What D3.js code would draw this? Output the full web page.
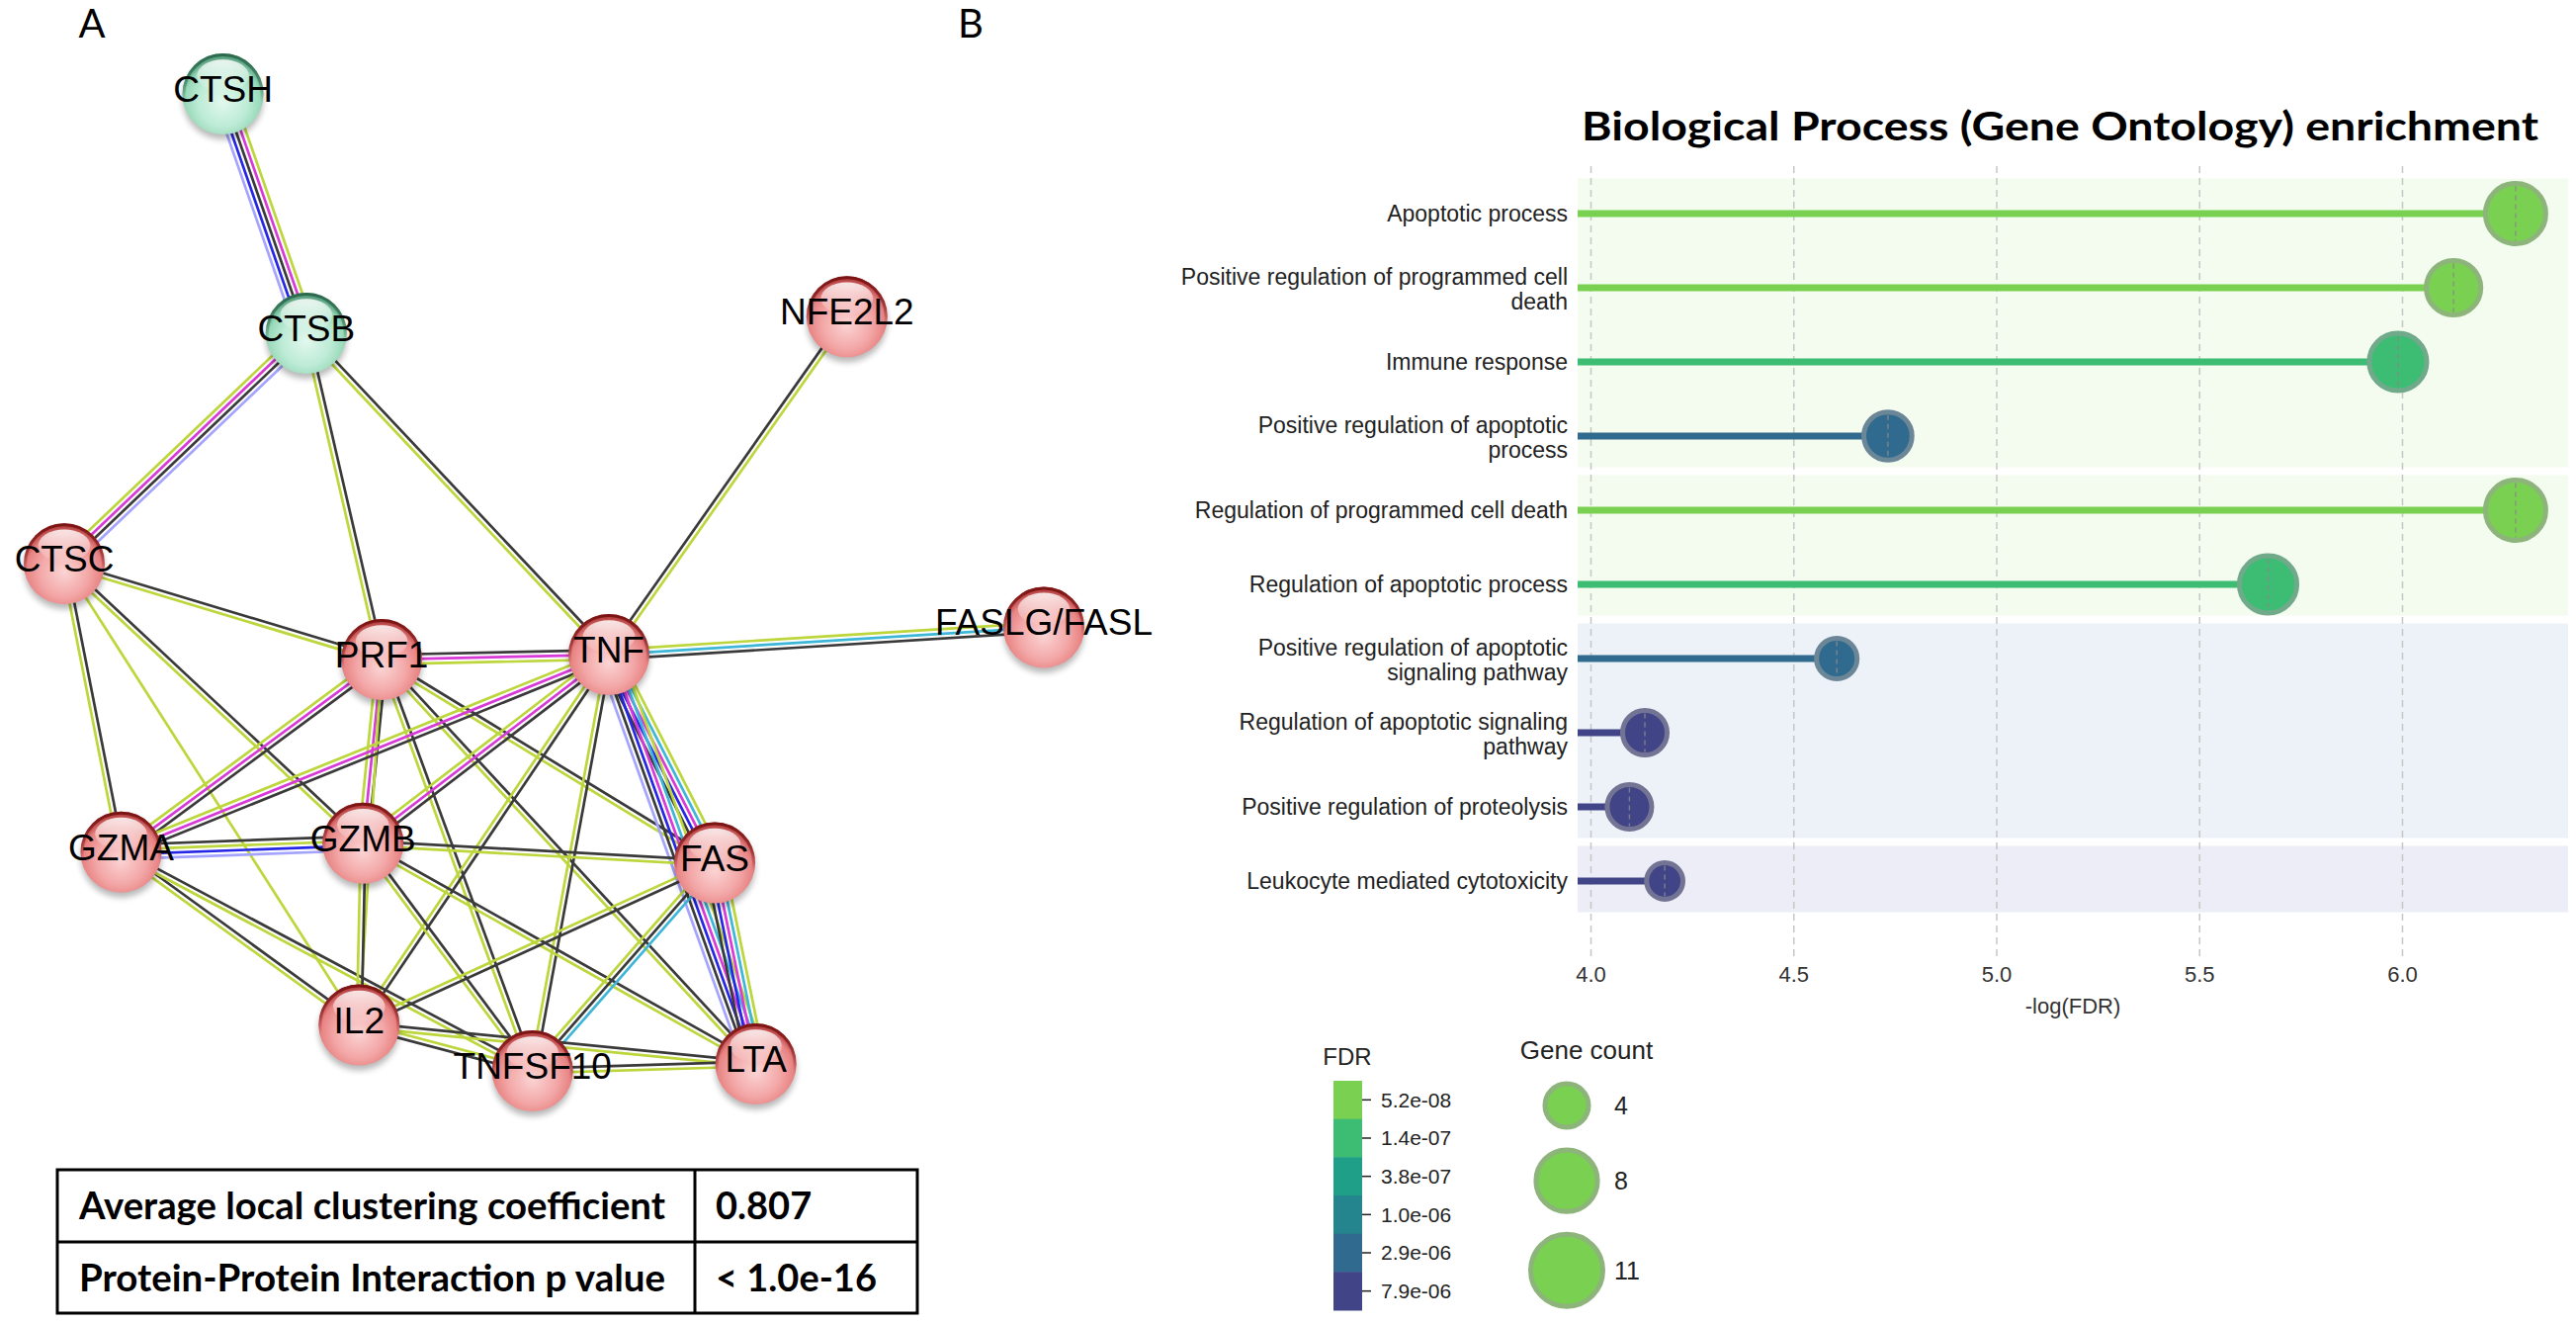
<!DOCTYPE html>
<html>
<head>
<meta charset="utf-8">
<script src="https://cdn.jsdelivr.net/npm/d3@7"></script>
<style>
  body { margin: 0; background: #fff; }
  svg { display: block; }
</style>
</head>
<body>
<svg id="fig" width="2606" height="1339"></svg>
<script>
// ---------- data: panel A (STRING network) ----------
var nodeNames = ["CTSH", "CTSB", "NFE2L2", "CTSC", "FASLG/FASL", "PRF1", "TNF",
                 "GZMA", "GZMB", "FAS", "IL2", "TNFSF10", "LTA"];
// layout units (0-100)
var nodeLayoutX = [16.2, 24.7, 79.9, 0, 100, 32.4, 55.6, 5.8, 30.5, 66.4, 30.1, 47.8, 70.6];
var nodeLayoutY = [0, 24.5, 22.8, 48.1, 54.6, 57.9, 57.4, 77.6, 76.7, 78.7, 95.3, 100, 99.3];
var nodeCluster = ["green", "green", "red", "red", "red", "red", "red",
                   "red", "red", "red", "red", "red", "red"];

// t textmining, c coexpression, e experiments, d databases, o co-occurrence, h homology
var edgeList = [
  ["CTSH", "CTSB", "tecoh"],
  ["CTSB", "CTSC", "hcet"],
  ["CTSB", "PRF1", "ct"],
  ["CTSB", "TNF", "ct"],
  ["NFE2L2", "TNF", "tc"],
  ["TNF", "FASLG/FASL", "tdc"],
  ["CTSC", "PRF1", "ct"],
  ["CTSC", "GZMA", "ct"],
  ["CTSC", "GZMB", "ct"],
  ["CTSC", "IL2", "t"],
  ["PRF1", "TNF", "cet"],
  ["PRF1", "GZMA", "cet"],
  ["PRF1", "GZMB", "cet"],
  ["PRF1", "FAS", "ct"],
  ["PRF1", "IL2", "t"],
  ["PRF1", "TNFSF10", "ct"],
  ["PRF1", "LTA", "ct"],
  ["TNF", "GZMA", "cet"],
  ["TNF", "GZMB", "cet"],
  ["TNF", "FAS", "tdeoc"],
  ["TNF", "LTA", "tdeoch"],
  ["TNF", "IL2", "ct"],
  ["TNF", "TNFSF10", "ct"],
  ["GZMA", "GZMB", "ctoh"],
  ["GZMA", "IL2", "ct"],
  ["GZMA", "TNFSF10", "ct"],
  ["GZMB", "FAS", "ct"],
  ["GZMB", "IL2", "ct"],
  ["GZMB", "TNFSF10", "ct"],
  ["GZMB", "LTA", "ct"],
  ["FAS", "IL2", "ct"],
  ["FAS", "TNFSF10", "dct"],
  ["FAS", "LTA", "tdeoc"],
  ["IL2", "TNFSF10", "tc"],
  ["IL2", "LTA", "ct"],
  ["TNFSF10", "LTA", "ct"]
];
var edgeColors = {t: "#bcd63c", c: "#3a3a3a", e: "#d83ad8", d: "#3db6d8", o: "#2626e6", h: "#a4a4ff"};

var tableLabels = ["Average local clustering coefficient", "Protein-Protein Interaction p value"];
var tableValues = ["0.807", "< 1.0e-16"];

// ---------- data: panel B (GO enrichment) ----------
var termLines = [
  ["Apoptotic process"],
  ["Positive regulation of programmed cell", "death"],
  ["Immune response"],
  ["Positive regulation of apoptotic", "process"],
  ["Regulation of programmed cell death"],
  ["Regulation of apoptotic process"],
  ["Positive regulation of apoptotic", "signaling pathway"],
  ["Regulation of apoptotic signaling", "pathway"],
  ["Positive regulation of proteolysis"],
  ["Leukocyte mediated cytotoxicity"]
];
var negLogFDR = [6.28, 6.127, 5.99, 4.733, 6.28, 5.67, 4.607, 4.134, 4.096, 4.183];
var fdrValues = [5.2e-8, 7.5e-8, 1.0e-7, 1.9e-6, 5.2e-8, 2.1e-7, 2.5e-6, 7.3e-6, 8.0e-6, 6.6e-6];
var geneCount = [11, 9, 10, 7, 11, 10, 5, 6, 6, 4];
var termGroup = [0, 0, 0, 0, 1, 1, 2, 2, 2, 3];
var groupFill = ["#f3fcee", "#f3fcee", "#edf2f8", "#ecedf6"];
var xTickValues = [4.0, 4.5, 5.0, 5.5, 6.0];
var fdrTickLabels = ["5.2e-08", "1.4e-07", "3.8e-07", "1.0e-06", "2.9e-06", "7.9e-06"];
var fdrColors = ["#7ad151", "#3dbc74", "#1f9f88", "#25858e", "#306a8e", "#414487"];
var legendCounts = [4, 8, 11];

// ---------- setup ----------
var svg = d3.select("#fig");
var defs = svg.append("defs");
var boldFont = "Lato, 'Open Sans', sans-serif";
var sansFont = "'Liberation Sans', Arial, sans-serif";

svg.append("rect").attr("width", 2606).attr("height", 1339).attr("fill", "#fff");

// panel letters
svg.append("text").attr("x", 93).attr("y", 38).attr("text-anchor", "middle")
  .style("font-family", boldFont).style("font-size", "40px").text("A");
svg.append("text").attr("x", 982).attr("y", 38).attr("text-anchor", "middle")
  .style("font-family", boldFont).style("font-size", "40px").text("B");

// ================= PANEL A =================
var netX = d3.scaleLinear().domain([0, 100]).range([65, 1056]);
var netY = d3.scaleLinear().domain([0, 100]).range([95, 1083]);
var nodeR = 41;

var nodes = nodeNames.map(function(n, i) {
  return {name: n, x: netX(nodeLayoutX[i]), y: netY(nodeLayoutY[i]), cl: nodeCluster[i]};
});
var byName = {};
nodes.forEach(function(n) { byName[n.name] = n; });

// gradients
var palettes = {
  red:   {stops: ["#fbd4d4", "#f3a7a7", "#e88383", "#b84545"], rim: "#7c1414"},
  green: {stops: ["#e2f8ee", "#bdebd6", "#98d9b9", "#5a9f80"], rim: "#2c6a4e"}
};
Object.keys(palettes).forEach(function(k) {
  var p = palettes[k];
  var rg = defs.append("radialGradient").attr("id", "ball-" + k)
    .attr("cx", "50%").attr("cy", "60%").attr("r", "55%");
  [0, 0.55, 0.85, 1].forEach(function(o, i) {
    rg.append("stop").attr("offset", o).attr("stop-color", p.stops[i]);
  });
  var lg = defs.append("linearGradient").attr("id", "rim-" + k)
    .attr("x1", 0).attr("y1", 0).attr("x2", 0).attr("y2", 1);
  lg.append("stop").attr("offset", 0).attr("stop-color", p.rim).attr("stop-opacity", 1);
  lg.append("stop").attr("offset", 0.35).attr("stop-color", p.rim).attr("stop-opacity", 0.5);
  lg.append("stop").attr("offset", 0.6).attr("stop-color", p.rim).attr("stop-opacity", 0);
});
var gloss = defs.append("linearGradient").attr("id", "gloss")
  .attr("x1", 0).attr("y1", 0).attr("x2", 0).attr("y2", 1);
gloss.append("stop").attr("offset", 0).attr("stop-color", "#fff").attr("stop-opacity", 0.85);
gloss.append("stop").attr("offset", 1).attr("stop-color", "#fff").attr("stop-opacity", 0.05);
var blur = defs.append("filter").attr("id", "shadow").attr("x", "-50%").attr("y", "-50%")
  .attr("width", "200%").attr("height", "200%");
blur.append("feGaussianBlur").attr("stdDeviation", 3);

// edges
var gEdges = svg.append("g");
var spacing = 4.8;
edgeList.forEach(function(e) {
  var a = byName[e[0]], b = byName[e[1]];
  var dx = b.x - a.x, dy = b.y - a.y, len = Math.sqrt(dx * dx + dy * dy);
  var nx = -dy / len, ny = dx / len;
  var types = e[2].split("");
  types.forEach(function(t, i) {
    var o = (i - (types.length - 1) / 2) * spacing;
    gEdges.append("line")
      .attr("x1", a.x + nx * o).attr("y1", a.y + ny * o)
      .attr("x2", b.x + nx * o).attr("y2", b.y + ny * o)
      .attr("stroke", edgeColors[t]).attr("stroke-width", 2.7);
  });
});

// nodes
var gNodes = svg.append("g").selectAll("g").data(nodes).join("g")
  .attr("transform", function(d) { return "translate(" + d.x + "," + d.y + ")"; });
gNodes.append("circle").attr("cy", 5).attr("r", nodeR)
  .attr("fill", "#000").attr("opacity", 0.28).attr("filter", "url(#shadow)");
gNodes.append("circle").attr("r", nodeR)
  .attr("fill", function(d) { return "url(#ball-" + d.cl + ")"; });
gNodes.append("circle").attr("r", nodeR - 1.5).attr("fill", "none")
  .attr("stroke", function(d) { return "url(#rim-" + d.cl + ")"; }).attr("stroke-width", 3);
gNodes.append("ellipse").attr("cy", -nodeR * 0.45).attr("rx", nodeR * 0.64).attr("ry", nodeR * 0.4)
  .attr("fill", "url(#gloss)");
gNodes.append("text").attr("y", -5).attr("dy", "0.35em").attr("text-anchor", "middle")
  .style("font-family", sansFont).style("font-size", "37px").style("fill", "#000")
  .text(function(d) { return d.name; });

// table
var tX = [58, 703, 928], tY = [1183, 1256, 1328];
var gTable = svg.append("g");
gTable.append("rect").attr("x", tX[0]).attr("y", tY[0])
  .attr("width", tX[2] - tX[0]).attr("height", tY[2] - tY[0])
  .attr("fill", "none").attr("stroke", "#000").attr("stroke-width", 3);
gTable.append("line").attr("x1", tX[0]).attr("x2", tX[2]).attr("y1", tY[1]).attr("y2", tY[1])
  .attr("stroke", "#000").attr("stroke-width", 3);
gTable.append("line").attr("x1", tX[1]).attr("x2", tX[1]).attr("y1", tY[0]).attr("y2", tY[2])
  .attr("stroke", "#000").attr("stroke-width", 3);
tableLabels.forEach(function(lbl, i) {
  var base = (tY[i] + tY[i + 1]) / 2 + 13.5;
  gTable.append("text").attr("x", 80).attr("y", base)
    .attr("textLength", 593).attr("lengthAdjust", "spacingAndGlyphs")
    .style("font-family", boldFont).style("font-weight", "bold").style("font-size", "38px")
    .text(lbl);
  gTable.append("text").attr("x", 724).attr("y", base)
    .style("font-family", boldFont).style("font-weight", "bold").style("font-size", "38px")
    .text(tableValues[i]);
});

// ================= PANEL B =================
var x = d3.scaleLinear().domain([3.9683, 6.4093]).range([1596, 2598]);
var y = d3.scaleBand().domain(d3.range(termLines.length)).range([178.5, 928.5]);
var yc = function(i) { return y(i) + y.bandwidth() / 2; };
var r = d3.scaleSqrt().domain([0, 11]).range([0, 30.5]);
var rLegend = d3.scaleSqrt().domain([0, 11]).range([0, 36.5]);

var fdrTickVals = fdrTickLabels.map(function(s) { return +s; });
function fdrColor(v) {
  var best = 0, bestD = Infinity;
  fdrTickVals.forEach(function(t, i) {
    var dd = Math.abs(Math.log10(v) - Math.log10(t));
    if (dd < bestD) { bestD = dd; best = i; }
  });
  return fdrColors[best];
}
function ringColor(c) { return d3.interpolateRgb(c, "#9c9c9c")(0.55); }

svg.append("text").attr("x", 1600).attr("y", 142)
  .attr("textLength", 968).attr("lengthAdjust", "spacingAndGlyphs")
  .style("font-family", boldFont).style("font-weight", "bold").style("font-size", "41px")
  .text("Biological Process (Gene Ontology) enrichment");

// group bands
var groups = d3.groups(d3.range(termLines.length), function(i) { return termGroup[i]; });
svg.append("g").selectAll("rect").data(groups).join("rect")
  .attr("x", x.range()[0]).attr("width", x.range()[1] - x.range()[0])
  .attr("y", function(g) { return y(g[1][0]) + 2; })
  .attr("height", function(g) { return y(g[1][g[1].length - 1]) + y.bandwidth() - 6 - y(g[1][0]) - 2; })
  .attr("fill", function(g) { return groupFill[g[0]]; });

// grid + x axis
var xAxis = svg.append("g").attr("transform", "translate(0,967)")
  .call(d3.axisBottom(x).tickValues(xTickValues).tickFormat(d3.format(".1f")).tickSize(-800).tickPadding(10));
xAxis.select(".domain").remove();
xAxis.selectAll(".tick line").attr("stroke", "#c6c6c6").attr("stroke-width", 1.5).attr("stroke-dasharray", "7,5");
xAxis.selectAll(".tick text").style("font-family", sansFont).style("font-size", "22px").attr("fill", "#333");
svg.append("text").attr("x", (x.range()[0] + x.range()[1]) / 2).attr("y", 1025).attr("text-anchor", "middle")
  .style("font-family", sansFont).style("font-size", "22px").attr("fill", "#333").text("-log(FDR)");

// y labels
var gLab = svg.append("g");
termLines.forEach(function(lines, i) {
  var t = gLab.append("text").attr("text-anchor", "end")
    .style("font-family", sansFont).style("font-size", "23px").attr("fill", "#222");
  lines.forEach(function(l, k) {
    t.append("tspan").attr("x", 1586)
      .attr("y", yc(i) + 8 - (lines.length - 1) * 11 + k * 24.5).text(l);
  });
});

// lollipops
var terms = termLines.map(function(l, i) {
  return {i: i, v: negLogFDR[i], col: fdrColor(fdrValues[i]), n: geneCount[i]};
});
var gPts = svg.append("g");
gPts.selectAll("line.stem").data(terms).join("line").attr("class", "stem")
  .attr("x1", x.range()[0]).attr("x2", function(d) { return x(d.v); })
  .attr("y1", function(d) { return yc(d.i); }).attr("y2", function(d) { return yc(d.i); })
  .attr("stroke", function(d) { return d.col; }).attr("stroke-width", 7);
gPts.selectAll("circle").data(terms).join("circle")
  .attr("cx", function(d) { return x(d.v); }).attr("cy", function(d) { return yc(d.i); })
  .attr("r", function(d) { return r(d.n); })
  .attr("fill", function(d) { return d.col; })
  .attr("stroke", function(d) { return ringColor(d.col); }).attr("stroke-width", 5);
gPts.selectAll("line.mid").data(terms).join("line").attr("class", "mid")
  .attr("x1", function(d) { return x(d.v); }).attr("x2", function(d) { return x(d.v); })
  .attr("y1", function(d) { return yc(d.i) - r(d.n) + 3; })
  .attr("y2", function(d) { return yc(d.i) + r(d.n) - 3; })
  .attr("stroke", "#888").attr("stroke-opacity", 0.8).attr("stroke-width", 1.5)
  .attr("stroke-dasharray", "5,4");

// FDR legend
var cb = d3.scaleBand().domain(d3.range(fdrTickLabels.length)).range([1093, 1325]);
var gCb = svg.append("g");
gCb.append("text").attr("x", 1363).attr("y", 1077).attr("text-anchor", "middle")
  .style("font-family", sansFont).style("font-size", "24px").attr("fill", "#222").text("FDR");
gCb.selectAll("rect").data(fdrColors).join("rect")
  .attr("x", 1349).attr("width", 29)
  .attr("y", function(d, i) { return cb(i); }).attr("height", cb.bandwidth() + 0.5)
  .attr("fill", function(d) { return d; });
gCb.selectAll("line").data(fdrTickLabels).join("line")
  .attr("x1", 1378).attr("x2", 1387)
  .attr("y1", function(d, i) { return cb(i) + cb.bandwidth() / 2; })
  .attr("y2", function(d, i) { return cb(i) + cb.bandwidth() / 2; })
  .attr("stroke", "#222").attr("stroke-width", 1.5);
gCb.selectAll("text.lab").data(fdrTickLabels).join("text").attr("class", "lab")
  .attr("x", 1397).attr("y", function(d, i) { return cb(i) + cb.bandwidth() / 2; }).attr("dy", "0.35em")
  .style("font-family", sansFont).style("font-size", "21px").attr("fill", "#222")
  .text(function(d) { return d; });

// gene count legend
var gGc = svg.append("g");
gGc.append("text").attr("x", 1605).attr("y", 1071).attr("text-anchor", "middle")
  .style("font-family", sansFont).style("font-size", "26px").attr("fill", "#222").text("Gene count");
var cy = 1093.5, legendPos = [];
legendCounts.forEach(function(n) {
  var rr = rLegend(n) + 2.5;
  legendPos.push(cy + rr);
  cy += 2 * rr + 18;
});
gGc.selectAll("circle").data(legendCounts).join("circle")
  .attr("cx", 1585).attr("cy", function(d, i) { return legendPos[i]; })
  .attr("r", function(d) { return rLegend(d); })
  .attr("fill", fdrColors[0]).attr("stroke", ringColor(fdrColors[0])).attr("stroke-width", 5);
gGc.selectAll("text.lab").data(legendCounts).join("text").attr("class", "lab")
  .attr("x", 1633).attr("y", function(d, i) { return legendPos[i]; }).attr("dy", "0.35em")
  .style("font-family", sansFont).style("font-size", "25px").attr("fill", "#222")
  .text(function(d) { return d; });
</script>
</body>
</html>
